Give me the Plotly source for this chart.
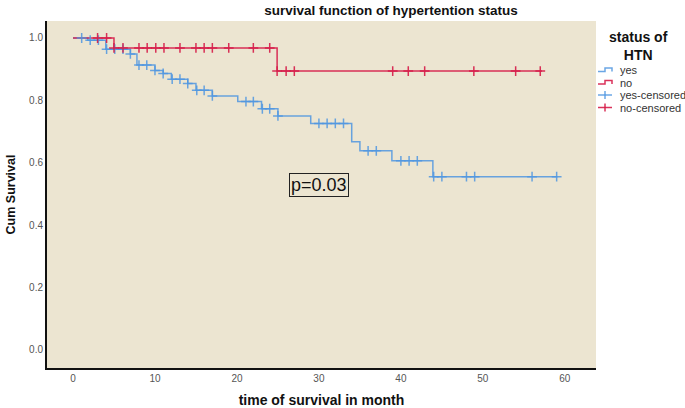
import numpy as np
import plotly.graph_objects as go

# ---- data ----
yes_times = [0, 1.8, 4.0, 7.0, 7.8, 10.0, 11.0, 12.0, 14.0, 15.0, 17.0, 20.1, 23.0, 25.0, 29.0, 34.0, 35.0, 38.9, 43.9, 59.1]
yes_surv = [1.0, 0.993, 0.964, 0.949, 0.913, 0.896, 0.886, 0.868, 0.854, 0.832, 0.814, 0.796, 0.773, 0.750, 0.726, 0.667, 0.638, 0.606, 0.555, 0.555]
yes_censored = [1.06, 2.1, 3.1, 4.1, 5.1, 6.1, 7.0, 8.05, 9.0, 10.0, 11.0, 12.1, 13.05, 14.0, 15.1, 16.0, 17.0,
                21.1, 22.0, 23.1, 24.0, 25.0, 30, 31, 32, 33, 36, 37, 40, 41, 42, 44, 45, 48, 49, 56, 59]

no_times = [0, 5.0, 24.9, 57.2]
no_surv = [1.0, 0.968, 0.894, 0.894]
no_censored = [3.0, 4.1, 5.0, 6.1, 8.05, 9.05, 10.1, 11.1, 13.05, 15.0, 16.0, 17.0, 19.0, 22.0, 24.0,
               24.9, 26.0, 27.0, 39.0, 40.9, 42.9, 48.9, 54.0, 57.0]

x_ticks = [0, 10, 20, 30, 40, 50, 60]
y_ticks = [0.0, 0.2, 0.4, 0.6, 0.8, 1.0]

legend_names = ["yes", "no", "yes-censored", "no-censored"]
p_text = "p=0.03"


def step_lookup(times, surv, pts):
    t = np.asarray(times)
    s = np.asarray(surv)
    idx = np.searchsorted(t, np.asarray(pts), side="right") - 1
    return s[idx]


BLUE = "rgba(80,150,225,0.85)"
RED = "rgba(214,28,72,0.9)"
FONT = "Liberation Sans, Arial"

W, H = 685, 408
L, R, T, B = 47, 89, 21, 40
PW, PH = W - L - R, H - T - B


def px(x):
    return (x - L) / PW


def py(y):
    return (H - B - y) / PH


fig = go.Figure()
fig.add_trace(go.Scatter(x=yes_times, y=yes_surv, mode="lines", line=dict(color=BLUE, width=1.5, shape="hv"),
                         name=legend_names[0]))
fig.add_trace(go.Scatter(x=no_times, y=no_surv, mode="lines", line=dict(color=RED, width=1.5, shape="hv"),
                         name=legend_names[1]))
fig.add_trace(go.Scatter(x=yes_censored, y=step_lookup(yes_times, yes_surv, yes_censored), mode="markers",
                         marker=dict(symbol="cross-thin", size=7, line=dict(color=BLUE, width=1.5)),
                         name=legend_names[2]))
fig.add_trace(go.Scatter(x=no_censored, y=step_lookup(no_times, no_surv, no_censored), mode="markers",
                         marker=dict(symbol="cross-thin", size=7, line=dict(color=RED, width=1.5)),
                         name=legend_names[3]))

fig.add_annotation(x=30, y=0.528, xref="x", yref="y", text=p_text, showarrow=False,
                   font=dict(family=FONT, size=18, color="#111"),
                   bordercolor="#222", borderwidth=1, borderpad=1, bgcolor="rgba(0,0,0,0)")

# legend title
fig.add_annotation(x=px(638), y=py(46), xref="paper", yref="paper",
                   text="<b>status of<br>HTN</b>",
                   showarrow=False, align="center", xanchor="center", yanchor="middle",
                   font=dict(family=FONT, size=14, color="#111"))

# custom legend (SPSS style, compact spacing)
legend_rows = [70, 82.5, 95, 107.5]
legend_colors = [BLUE, RED, BLUE, RED]
for name, yy, col, kind in zip(legend_names, legend_rows, legend_colors, ["step", "step", "cross", "cross"]):
    fig.add_annotation(x=px(618), y=py(yy), xref="paper", yref="paper", text=name, showarrow=False,
                       xanchor="left", yanchor="middle", font=dict(family=FONT, size=11, color="#333"))
    if kind == "step":
        path = (f"M {px(598)},{py(yy + 1.5)} L {px(605)},{py(yy + 1.5)} L {px(605)},{py(yy - 2)} "
                f"L {px(612)},{py(yy - 2)} L {px(612)},{py(yy + 1.5)}")
        fig.add_shape(type="path", path=path, xref="paper", yref="paper", line=dict(color=col, width=1.5))
    else:
        fig.add_shape(type="line", x0=px(598), x1=px(612), y0=py(yy), y1=py(yy), xref="paper", yref="paper",
                      line=dict(color=col, width=1.5))
        fig.add_shape(type="line", x0=px(605), x1=px(605), y0=py(yy - 4), y1=py(yy + 4), xref="paper",
                      yref="paper", line=dict(color=col, width=1.5))

fig.update_layout(
    width=W, height=H,
    margin=dict(l=L, r=R, t=T, b=B, autoexpand=False),
    paper_bgcolor="white",
    plot_bgcolor="#ECE5D1",
    title=dict(text="<b>survival function of hypertention status</b>", x=391 / W, xref="container", xanchor="center",
               y=1 - 10 / H, yref="container", yanchor="middle", automargin=False,
               font=dict(family=FONT, size=13.5, color="#111")),
    showlegend=False,
    xaxis=dict(range=[-3.17, 63.8], tickmode="array", tickvals=x_ticks, ticktext=[str(v) for v in x_ticks],
               showgrid=False, zeroline=False, showline=True, linecolor="#111", linewidth=2, automargin=False,
               ticks="", tickfont=dict(family=FONT, size=10, color="#555"),
               title=dict(text="<b>time of survival in month</b>", standoff=13,
                          font=dict(family=FONT, size=14, color="#111"))),
    yaxis=dict(range=[-0.0587, 1.0545], tickmode="array", tickvals=y_ticks, ticktext=[f"{v:.1f}" for v in y_ticks],
               showgrid=False, zeroline=False, showline=True, linecolor="#111", linewidth=2, automargin=False,
               ticks="", tickfont=dict(family=FONT, size=10, color="#555"),
               title=dict(text="<b>Cum Survival</b>", standoff=11,
                          font=dict(family=FONT, size=12.5, color="#111"))),
)

fig.write_html("out.html", config={"displayModeBar": False},
               post_script="document.body.style.margin='0';document.body.style.overflow='hidden';")
